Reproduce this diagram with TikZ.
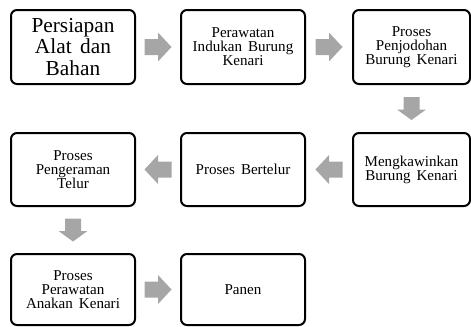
\documentclass[tikz,border=0pt]{standalone}
\usepackage{fontspec}
\setmainfont[WordSpace=1.6]{Liberation Serif}
\usetikzlibrary{calc}
\definecolor{arrowgray}{HTML}{A6A6A6}
\tikzset{
  stepbox/.style={draw=black, line width=1.5pt, rounded corners=4.5pt, fill=white,
    align=center, inner sep=0pt,
    font=\fontsize{11.3pt}{10.6pt}\selectfont},
  bigtext/.style={font=\fontsize{16pt}{16.3pt}\selectfont},
  harrow/.pic={\fill[arrowgray] (-13.5,-8) -- (0,-8) -- (0,-14.5) -- (13.5,0) -- (0,14.5) -- (0,8) -- (-13.5,8) -- cycle;},
  varrow/.pic={\fill[arrowgray] (-11.5,-8) -- (1,-8) -- (1,-14.5) -- (11.5,0) -- (1,14.5) -- (1,8) -- (-11.5,8) -- cycle;}
}
\begin{document}
\begin{tikzpicture}[x=0.75pt,y=-0.75pt]
\useasboundingbox (0,0) rectangle (471,326);
% row 1
\node[stepbox, bigtext, minimum width=93pt, minimum height=55.5pt] (b1) at (73,47) {Persiapan\\Alat dan\\Bahan};
\node[stepbox, minimum width=93pt, minimum height=55.5pt] (b2) at (243,47) {Perawatan\\Indukan Burung\\Kenari};
\node[stepbox, minimum width=87.75pt, minimum height=55.5pt] (b3) at (411.5,47) {Proses\\Penjodohan\\Burung Kenari};
% row 2
\node[stepbox, minimum width=87.75pt, minimum height=54.75pt] (b4) at (411.5,169.5) {Mengkawinkan\\Burung Kenari};
\node[stepbox, minimum width=93pt, minimum height=54.75pt] (b5) at (243,169.5) {Proses Bertelur};
\node[stepbox, minimum width=93pt, minimum height=54.75pt] (b6) at (73,169.5) {Proses\\Pengeraman\\Telur};
% row 3
\node[stepbox, minimum width=93pt, minimum height=53.25pt] (b7) at (73,289.5) {Proses\\Perawatan\\Anakan Kenari};
\node[stepbox, minimum width=93pt, minimum height=53.25pt] (b8) at (243,289.5) {Panen};
% arrows
\path ($(b1.east)!0.5!(b2.west)$) pic {harrow};
\path ($(b2.east)!0.5!(b3.west)$) pic {harrow};
\path ($(b3.south)!0.5!(b4.north)$) pic[rotate=-90] {varrow};
\path ($(b4.west)!0.5!(b5.east)$) pic[rotate=180] {harrow};
\path ($(b5.west)!0.5!(b6.east)$) pic[rotate=180] {harrow};
\path ($(b6.south)!0.5!(b7.north)$) pic[rotate=-90] {varrow};
\path ($(b7.east)!0.5!(b8.west)$) pic {harrow};
\end{tikzpicture}
\end{document}
